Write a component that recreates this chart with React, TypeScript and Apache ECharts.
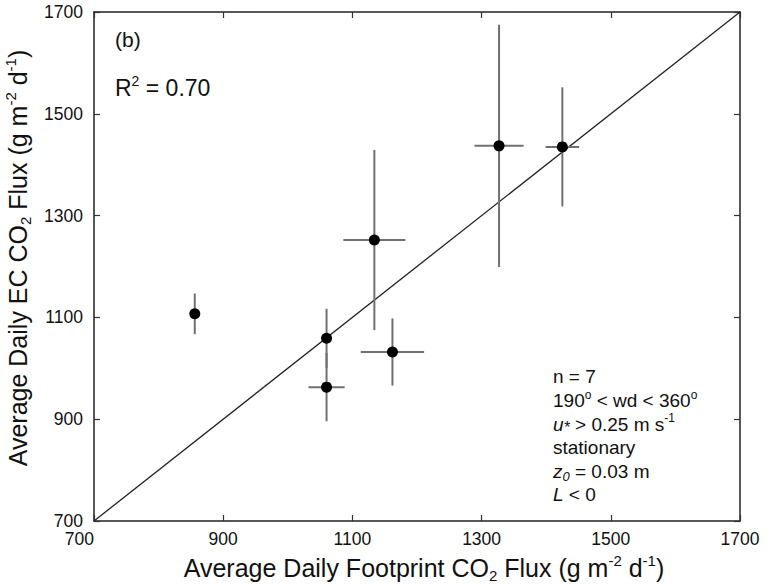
import React, { useEffect, useRef } from 'react';
import * as echarts from 'echarts';

// Data
const footprintFlux = [856, 1060, 1060, 1162, 1134, 1327, 1425];
const ecFlux = [1107, 1059, 963, 1032, 1252, 1437, 1435];
const footprintErr = [0, 0, 28, 49, 48, 38, 26];
const ecErr = [40, 58, 67, 66, 177, 238, 117];
const axisMin = 700;
const axisMax = 1700;
const axisStep = 200;
const oneToOneLine = [
  [700, 700],
  [1700, 1700],
];
const panelLabel = '(b)';
const r2Label = 'R{sup|2} = 0.70';
const conditionLines = [
  'n = 7',
  '190{sup|o} < wd < 360{sup|o}',
  '{it|u}{ast|*} > 0.25 m s{sup|-1}',
  'stationary',
  '{it|z}{itsub|0} = 0.03 m',
  '{it|L} < 0',
];
const xTitle = 'Average Daily Footprint CO{sub|2} Flux (g m{sup|-2} d{sup|-1})';
const yTitle = 'Average Daily EC CO{sub|2} Flux (g m{sup|-2} d{sup|-1})';

const FONT = '"Liberation Sans", Arial, Helvetica, sans-serif';
const TXT = '#111';

function titleRich(size: number) {
  return {
    sub: { fontSize: size * 0.6, lineHeight: size * 0.6, verticalAlign: 'bottom', fontFamily: FONT, color: TXT },
    sup: { fontSize: size * 0.6, lineHeight: size * 0.6, verticalAlign: 'top', fontFamily: FONT, color: TXT },
  };
}

export default function App() {
  const ref = useRef<HTMLDivElement>(null);

  useEffect(() => {
    if (!ref.current) return;
    const chart = echarts.init(ref.current, undefined, { renderer: 'svg' });

    const points = footprintFlux.map((x, i) => [x, ecFlux[i]]);
    const errData = footprintFlux.map((x, i) => [x, ecFlux[i], footprintErr[i], ecErr[i]]);

    const axisCommon = {
      type: 'value',
      min: axisMin,
      max: axisMax,
      interval: axisStep,
      splitLine: { show: false },
      axisLine: { show: true, lineStyle: { color: '#222', width: 1.5 } },
      axisTick: { show: true, inside: true, length: 6, lineStyle: { color: '#333', width: 1.2 } },
    };
    const plain = (v: number) => String(v);

    const option: any = {
      animation: false,
      backgroundColor: '#fff',
      grid: { left: 94, right: 27, top: 12, bottom: 65, containLabel: false, outerBoundsMode: 'none' },
      xAxis: [
        {
          ...axisCommon,
          position: 'bottom',
          axisLabel: {
            show: true,
            margin: 9,
            fontSize: 17.5,
            fontFamily: FONT,
            color: TXT,
            alignMinLabel: 'right',
            formatter: plain,
          },
          name: xTitle,
          nameLocation: 'middle',
          nameGap: 29,
          nameTextStyle: {
            fontSize: 25,
            lineHeight: 30,
            fontFamily: FONT,
            color: TXT,
            padding: [0, 0, 0, 14],
            rich: titleRich(25),
          },
        },
        {
          ...axisCommon,
          position: 'top',
          axisLabel: { show: false },
        },
      ],
      yAxis: [
        {
          ...axisCommon,
          position: 'left',
          axisLabel: {
            show: true,
            margin: 11,
            fontSize: 17.5,
            fontFamily: FONT,
            color: TXT,
            formatter: plain,
          },
          name: yTitle,
          nameLocation: 'middle',
          nameGap: 39,
          nameTextStyle: {
            fontSize: 25,
            lineHeight: 30,
            fontFamily: FONT,
            color: TXT,
            padding: [0, 0, 0, 17],
            rich: titleRich(25),
          },
        },
        {
          ...axisCommon,
          position: 'right',
          axisLabel: { show: false },
        },
      ],
      graphic: [
        {
          type: 'text',
          x: 115,
          y: 39,
          style: {
            text: panelLabel,
            fontSize: 21,
            fontFamily: FONT,
            fill: TXT,
            align: 'left',
            verticalAlign: 'middle',
          },
        },
        {
          type: 'text',
          x: 115,
          y: 88,
          style: {
            text: r2Label,
            fontSize: 23,
            lineHeight: 28,
            fontFamily: FONT,
            fill: TXT,
            align: 'left',
            verticalAlign: 'middle',
            rich: {
              sup: { fontSize: 14, lineHeight: 14, verticalAlign: 'top', fontFamily: FONT, fill: TXT },
            },
          },
        },
        {
          type: 'text',
          x: 553,
          y: 365,
          style: {
            text: conditionLines.join('\n'),
            fontSize: 19,
            lineHeight: 23.6,
            fontFamily: FONT,
            fill: TXT,
            align: 'left',
            verticalAlign: 'top',
            rich: {
              sup: { fontSize: 12, lineHeight: 12, verticalAlign: 'top', fontFamily: FONT, fill: TXT },
              it: { fontSize: 19, lineHeight: 23.6, fontStyle: 'italic', fontFamily: FONT, fill: TXT },
              ast: { fontSize: 16, lineHeight: 16, verticalAlign: 'bottom', fontStyle: 'italic', fontFamily: FONT, fill: TXT },
              itsub: { fontSize: 13, lineHeight: 13, verticalAlign: 'bottom', fontStyle: 'italic', fontFamily: FONT, fill: TXT },
            },
          },
        },
      ],
      series: [
        {
          type: 'line',
          data: oneToOneLine,
          symbol: 'none',
          lineStyle: { color: '#222', width: 1.3 },
          silent: true,
          z: 1,
        },
        {
          type: 'custom',
          data: errData,
          z: 2,
          renderItem: (params: any, api: any) => {
            const x = api.value(0);
            const y = api.value(1);
            const xe = api.value(2);
            const ye = api.value(3);
            const children: any[] = [];
            const style = { stroke: '#707070', lineWidth: 2 };
            if (ye > 0) {
              const p1 = api.coord([x, y - ye]);
              const p2 = api.coord([x, y + ye]);
              children.push({ type: 'line', shape: { x1: p1[0], y1: p1[1], x2: p2[0], y2: p2[1] }, style });
            }
            if (xe > 0) {
              const p1 = api.coord([x - xe, y]);
              const p2 = api.coord([x + xe, y]);
              children.push({ type: 'line', shape: { x1: p1[0], y1: p1[1], x2: p2[0], y2: p2[1] }, style });
            }
            return { type: 'group', children };
          },
        },
        {
          type: 'scatter',
          data: points,
          symbol: 'circle',
          symbolSize: 11,
          itemStyle: { color: '#000', opacity: 1 },
          z: 3,
        },
      ],
    };

    chart.setOption(option);
    return () => chart.dispose();
  }, []);

  return (
    <div
      ref={ref}
      style={{ position: 'fixed', left: 0, top: 0, width: 767, height: 586, background: '#fff' }}
    />
  );
}
